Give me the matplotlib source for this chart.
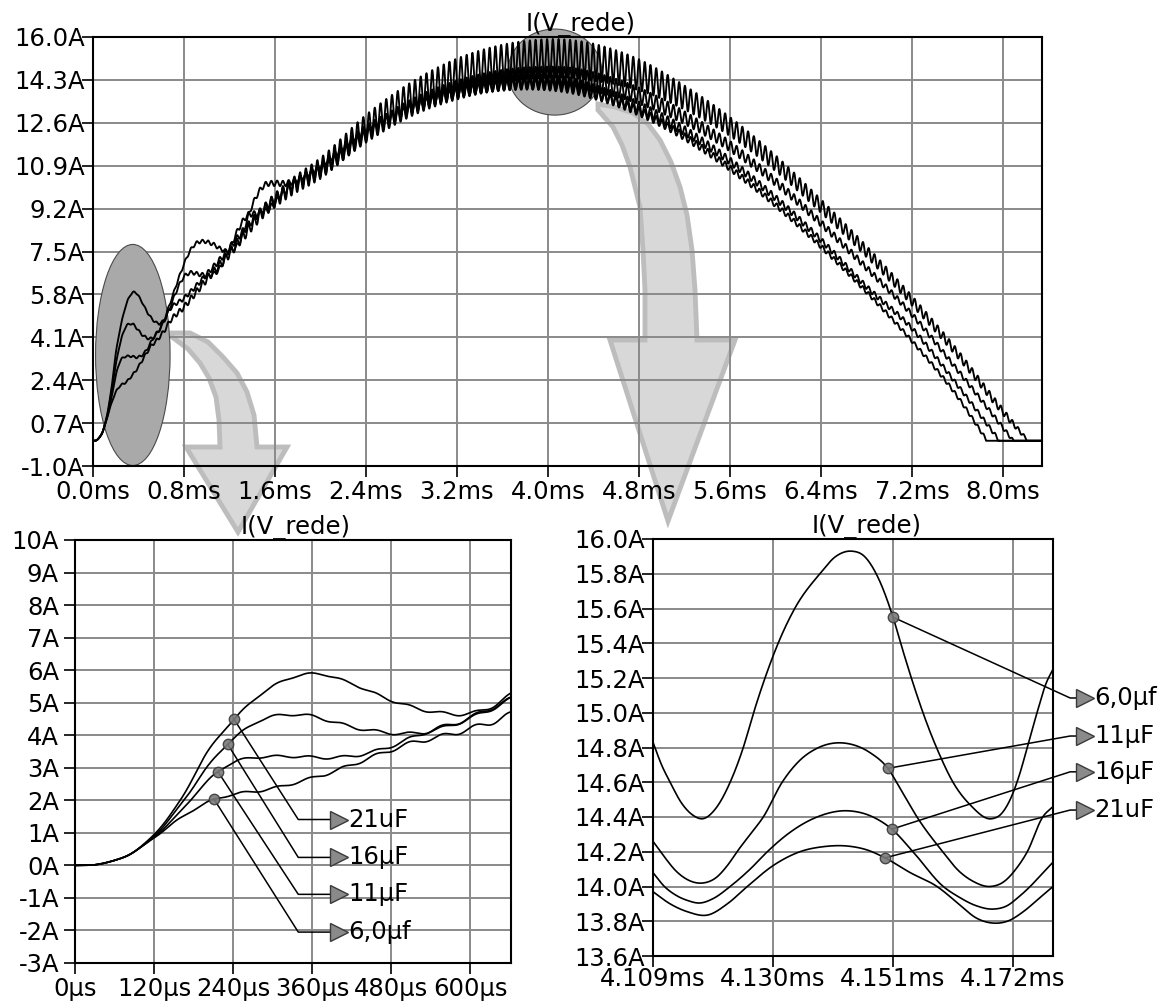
import numpy as np
import matplotlib
matplotlib.use("Agg")
import matplotlib.pyplot as plt
from matplotlib.patches import Ellipse, Polygon
from matplotlib.transforms import Affine2D

# ---------------------------------------------------------------------------
# Data: line current I(V_rede) for four filter capacitors
# ---------------------------------------------------------------------------
CAP_LABELS = ["6,0µf", "11µF", "16µF", "21uF"]

# Slow (mains-frequency) component, time in ms, current in A
T_6 = [0, 0.03, 0.06, 0.09, 0.12, 0.16, 0.211, 0.24, 0.292, 0.342, 0.392, 0.433,
       0.474, 0.513, 0.554, 0.595, 0.635, 0.661, 0.8, 0.9, 1.0, 1.14, 1.3, 1.5,
       1.73, 2.0, 2.4, 2.8, 3.2, 3.6, 4.0, 4.15, 4.4, 4.8, 5.2, 5.6, 6.0, 6.4,
       6.8, 7.2, 7.6, 8.0, 8.22]
I_6 = [0, 0.02, 0.15, 0.42, 0.85, 1.45, 2.02, 2.18, 2.33, 2.58, 2.88, 3.19,
       3.5, 3.77, 3.95, 4.17, 4.42, 4.63, 5.3, 5.85, 6.4, 7.1, 8.0, 9.1,
       10.0, 10.8, 12.4, 13.6, 14.45, 14.95, 15.15, 15.15, 15.0, 14.5, 13.6, 12.45, 11.0, 9.3,
       7.5, 5.55, 3.45, 1.15, 0.0]

T_11 = [0, 0.03, 0.06, 0.09, 0.12, 0.16, 0.19, 0.217, 0.24, 0.292, 0.342, 0.392,
        0.433, 0.474, 0.504, 0.544, 0.585, 0.626, 0.661, 0.8, 0.9, 1.0, 1.14, 1.3,
        1.5, 1.73, 2.0, 2.4, 2.8, 3.2, 3.6, 4.0, 4.15, 4.4, 4.8, 5.2, 5.6, 6.0,
        6.4, 6.8, 7.2, 7.6, 8.09]
I_11 = [0, 0.02, 0.15, 0.42, 0.87, 1.65, 2.35, 2.88, 3.16, 3.34, 3.34, 3.31,
        3.4, 3.62, 3.86, 4.17, 4.42, 4.78, 5.1, 5.65, 6.1, 6.6, 7.3, 8.2,
        9.2, 10.05, 10.7, 12.1, 13.2, 13.9, 14.3, 14.42, 14.41, 14.22, 13.67, 12.8, 11.67, 10.26,
        8.62, 6.85, 5.0, 2.8, 0.0]

T_16 = [0, 0.03, 0.06, 0.09, 0.12, 0.16, 0.2, 0.232, 0.26, 0.292, 0.325, 0.357,
        0.392, 0.433, 0.474, 0.513, 0.554, 0.595, 0.646, 0.7, 0.75, 0.8, 0.85, 0.93,
        1.03, 1.1, 1.2, 1.28, 1.35, 1.45, 1.55, 1.65, 1.8, 2.0, 2.4, 2.8, 3.2, 3.6,
        4.0, 4.15, 4.4, 4.8, 5.2, 5.6, 6.0, 6.4, 6.8, 7.2, 7.6, 7.97]
I_16 = [0, 0.02, 0.15, 0.42, 0.9, 1.85, 3.0, 3.74, 4.2, 4.54, 4.63, 4.6,
        4.41, 4.2, 4.08, 4.05, 4.2, 4.48, 4.94, 5.55, 6.1, 6.5, 6.65, 6.6,
        6.57, 6.75, 7.6, 8.4, 8.9, 9.0, 9.2, 9.7, 10.3, 10.8, 12.25, 13.2, 13.83, 14.16,
        14.2, 14.15, 13.85, 13.2, 12.28, 11.08, 9.62, 7.95, 6.1, 4.45, 2.2, 0.0]

T_21 = [0, 0.03, 0.06, 0.09, 0.12, 0.16, 0.2, 0.241, 0.292, 0.33, 0.368, 0.418,
        0.478, 0.544, 0.595, 0.63, 0.661, 0.7, 0.75, 0.8, 0.85, 0.9, 0.97, 1.05,
        1.14, 1.2, 1.3, 1.38, 1.45, 1.5, 1.6, 1.7, 1.8, 1.9, 2.0, 2.4, 2.8, 3.2,
        3.6, 4.0, 4.15, 4.4, 4.8, 5.2, 5.6, 6.0, 6.4, 6.8, 7.2, 7.6, 7.86]
I_21 = [0, 0.02, 0.15, 0.42, 0.95, 2.0, 3.45, 4.48, 5.4, 5.78, 5.89, 5.6,
        5.09, 4.72, 4.66, 4.85, 5.24, 5.75, 6.4, 7.0, 7.5, 7.8, 7.9, 7.8,
        7.56, 7.5, 8.0, 9.1, 9.8, 10.1, 10.2, 10.2, 10.35, 10.6, 10.9, 12.35, 13.2, 13.8,
        14.08, 14.1, 14.02, 13.75, 13.05, 12.05, 10.8, 9.35, 7.7, 5.9, 3.95, 1.75, 0.0]

# Instant where each current returns to zero (ms)
T_END = [8.22, 8.09, 7.97, 7.86]

# Switching ripple: amplitude envelope (A), period and peak instant (ms)
RIP_T = [0.0, 0.5, 1.0, 1.5, 2.0, 2.4, 2.8, 3.2, 3.6, 4.0, 4.4, 4.8, 5.2, 5.6,
         6.0, 6.4, 6.8, 7.2, 7.6, 8.0, 8.33]
RIP_6 = [0.00, 0.06, 0.14, 0.25, 0.42, 0.52, 0.62, 0.70, 0.75, 0.77, 0.74, 0.62,
         0.48, 0.38, 0.32, 0.27, 0.23, 0.20, 0.17, 0.14, 0.0]
RIP_11 = [0.00, 0.05, 0.10, 0.16, 0.24, 0.29, 0.34, 0.38, 0.40, 0.41, 0.39, 0.33,
          0.26, 0.21, 0.17, 0.14, 0.12, 0.10, 0.09, 0.08, 0.0]
RIP_16 = [0.00, 0.05, 0.08, 0.12, 0.17, 0.21, 0.24, 0.27, 0.28, 0.29, 0.28, 0.24,
          0.19, 0.15, 0.13, 0.11, 0.10, 0.09, 0.08, 0.07, 0.0]
RIP_21 = [0.00, 0.04, 0.07, 0.10, 0.13, 0.16, 0.18, 0.20, 0.21, 0.22, 0.21, 0.18,
          0.15, 0.12, 0.10, 0.09, 0.08, 0.07, 0.07, 0.06, 0.0]
RIPPLE_PERIOD_MS = 0.0505
RIPPLE_PEAK_MS = 4.1435

# Detail around the crest (4.109 .. 4.179 ms)
Z_T_6 = [4.109, 4.1105, 4.112, 4.114, 4.116, 4.1177, 4.1200, 4.1225, 4.1248, 4.1266,
         4.1286, 4.1309, 4.1338, 4.1382, 4.1410, 4.1438, 4.146, 4.1485, 4.151, 4.1528,
         4.1547, 4.1568, 4.159, 4.1615, 4.1645, 4.1683, 4.1700, 4.1715, 4.1730, 4.1745,
         4.1762, 4.1778, 4.179]
Z_I_6 = [14.83, 14.7, 14.6, 14.48, 14.41, 14.39, 14.45, 14.6, 14.8, 15.0,
         15.2, 15.4, 15.6, 15.8, 15.9, 15.93, 15.9, 15.77, 15.55, 15.35,
         15.15, 14.95, 14.77, 14.6, 14.47, 14.39, 14.42, 14.5, 14.63, 14.8,
         15.0, 15.17, 15.25]
Z_T_11 = [4.109, 4.111, 4.113, 4.115, 4.1177, 4.120, 4.122, 4.1237, 4.126, 4.1283,
          4.1316, 4.1345, 4.138, 4.1435, 4.147, 4.1501, 4.1525, 4.1552, 4.1597, 4.1625,
          4.165, 4.168, 4.1705, 4.1725, 4.1745, 4.1772, 4.179]
Z_I_11 = [14.26, 14.17, 14.09, 14.04, 14.02, 14.05, 14.12, 14.2, 14.3, 14.4,
          14.6, 14.72, 14.8, 14.82, 14.77, 14.68, 14.55, 14.4, 14.2, 14.09,
          14.03, 14.0, 14.03, 14.1, 14.2, 14.4, 14.46]
Z_T_16 = [4.109, 4.111, 4.113, 4.115, 4.1172, 4.1195, 4.1225, 4.126, 4.129, 4.1325,
          4.137, 4.1435, 4.1475, 4.1508, 4.1545, 4.1598, 4.1625, 4.1655, 4.1685, 4.171,
          4.173, 4.175, 4.177, 4.179]
Z_I_16 = [14.08, 14.0, 13.95, 13.92, 13.905, 13.93, 14.0, 14.1, 14.2, 14.3,
          14.39, 14.435, 14.4, 14.33, 14.2, 14.0, 13.94, 13.89, 13.87, 13.89,
          13.94, 14.0, 14.07, 14.14]
Z_T_21 = [4.109, 4.112, 4.115, 4.1186, 4.122, 4.1255, 4.130, 4.1347, 4.139, 4.143,
          4.1465, 4.1496, 4.154, 4.1587, 4.1625, 4.1655, 4.1683, 4.171, 4.174, 4.1765,
          4.179]
Z_I_21 = [13.97, 13.9, 13.855, 13.836, 13.9, 14.0, 14.12, 14.2, 14.23, 14.233,
          14.21, 14.165, 14.08, 14.0, 13.9, 13.82, 13.79, 13.8, 13.86, 13.93,
          14.0]

# Probe instants of the labelled markers
PROBE_START_US = [211, 217, 232, 241.5]
PROBE_CREST_MS = [4.151, 4.1501, 4.1508, 4.1496]

# Axis ticks and their labels
TOP_XTICKS = [0.0, 0.8, 1.6, 2.4, 3.2, 4.0, 4.8, 5.6, 6.4, 7.2, 8.0]
TOP_XLABELS = ["0.0ms", "0.8ms", "1.6ms", "2.4ms", "3.2ms", "4.0ms", "4.8ms",
               "5.6ms", "6.4ms", "7.2ms", "8.0ms"]
TOP_YTICKS = [-1.0, 0.7, 2.4, 4.1, 5.8, 7.5, 9.2, 10.9, 12.6, 14.3, 16.0]
TOP_YLABELS = ["-1.0A", "0.7A", "2.4A", "4.1A", "5.8A", "7.5A", "9.2A", "10.9A",
               "12.6A", "14.3A", "16.0A"]
BL_XTICKS = [0, 120, 240, 360, 480, 600]
BL_XLABELS = ["0µs", "120µs", "240µs", "360µs", "480µs", "600µs"]
BL_YTICKS = list(range(-3, 11))
BL_YLABELS = ["-3A", "-2A", "-1A", "0A", "1A", "2A", "3A", "4A", "5A", "6A",
              "7A", "8A", "9A", "10A"]
BR_XTICKS = [4.109, 4.130, 4.151, 4.172]
BR_XLABELS = ["4.109ms", "4.130ms", "4.151ms", "4.172ms"]
BR_YTICKS = [13.6, 13.8, 14.0, 14.2, 14.4, 14.6, 14.8, 15.0, 15.2, 15.4, 15.6,
             15.8, 16.0]
BR_YLABELS = ["13.6A", "13.8A", "14.0A", "14.2A", "14.4A", "14.6A", "14.8A",
              "15.0A", "15.2A", "15.4A", "15.6A", "15.8A", "16.0A"]

# ---------------------------------------------------------------------------
# Helpers
# ---------------------------------------------------------------------------
def smooth_curve(xk, yk, x):
    """Cubic Hermite curve through the given points."""
    xk = np.asarray(xk, float)
    yk = np.asarray(yk, float)
    m = np.gradient(yk, xk)
    i = np.clip(np.searchsorted(xk, x, side="right") - 1, 0, len(xk) - 2)
    h = xk[i + 1] - xk[i]
    s = np.clip((x - xk[i]) / h, 0.0, 1.0)
    h00 = 2 * s**3 - 3 * s**2 + 1
    h10 = s**3 - 2 * s**2 + s
    h01 = -2 * s**3 + 3 * s**2
    h11 = s**3 - s**2
    return h00 * yk[i] + h10 * h * m[i] + h01 * yk[i + 1] + h11 * h * m[i + 1]


def line_current(tk, ik, rip, t_end, t):
    base = smooth_curve(tk, ik, np.minimum(t, t_end))
    ripple = np.interp(t, RIP_T, rip) * np.cos(
        2 * np.pi * (t - RIPPLE_PEAK_MS) / RIPPLE_PERIOD_MS)
    y = np.where(t >= t_end, 0.0, base + ripple)
    return np.maximum(y, 0.0)


SERIES = [(T_6, I_6, RIP_6), (T_11, I_11, RIP_11), (T_16, I_16, RIP_16),
          (T_21, I_21, RIP_21)]
CREST = [(Z_T_6, Z_I_6), (Z_T_11, Z_I_11), (Z_T_16, Z_I_16), (Z_T_21, Z_I_21)]

# ---------------------------------------------------------------------------
# Figure
# ---------------------------------------------------------------------------
plt.rcParams["font.family"] = ["DejaVu Sans"]
FS = 17.5
W, H, DPI = 1171, 1001, 100
fig = plt.figure(figsize=(W / DPI, H / DPI), dpi=DPI)
pix = Affine2D().scale(1 / W, -1 / H).translate(0, 1) + fig.transFigure

ax_top = fig.add_axes([93 / W, 1 - 466 / H, (1042 - 93) / W, (466 - 37) / H])
ax_bl = fig.add_axes([75 / W, 1 - 963 / H, (511 - 75) / W, (963 - 540) / H])
ax_br = fig.add_axes([653 / W, 1 - 956 / H, (1053 - 653) / W, (956 - 539) / H])


def style(ax, xt, xl, yt, yl, ypad, xpad, title_x):
    ax.set_facecolor("none")
    ax.set_xticks(xt)
    ax.set_xticklabels(xl)
    ax.set_yticks(yt)
    ax.set_yticklabels(yl)
    ax.grid(True, color="#8a8a8a", lw=1.4)
    ax.set_axisbelow(True)
    for sp in ax.spines.values():
        sp.set_linewidth(1.5)
        sp.set_color("black")
    ax.tick_params(direction="out", length=8, width=1.2, labelsize=FS,
                   colors="black")
    ax.tick_params(axis="y", pad=ypad)
    ax.tick_params(axis="x", pad=xpad)
    ax.set_title("I(V_rede)", fontsize=FS, pad=1, x=title_x)


# Big curved pointer arrows between panels (drawn beneath the axes content)
arrow_small = [(172, 333), (190, 333), (208, 342), (223, 357), (237, 373),
               (247, 392), (254, 415), (257, 447), (287, 447), (238, 532),
               (186, 447), (220, 447), (219, 420), (216, 397), (209, 378),
               (200, 363), (188, 349), (172, 337)]
arrow_big = [(598, 104), (615, 107), (633, 113), (648, 124), (660, 140),
             (671, 162), (680, 187), (687, 215), (692, 250), (695, 290),
             (697, 340), (735, 340), (668, 521), (610, 340), (645, 340),
             (645, 290), (643, 250), (640, 207), (630, 167), (622, 145),
             (613, 127), (598, 110)]
for pts in (arrow_small, arrow_big):
    fig.add_artist(Polygon(pts, closed=True, facecolor="#d8d8d8",
                           edgecolor="#bdbdbd", lw=3.5, transform=pix,
                           zorder=-1))

# --- overview ---
style(ax_top, TOP_XTICKS, TOP_XLABELS, TOP_YTICKS, TOP_YLABELS, -2, 2, 0.514)
t = np.linspace(0, 8.343, 24000)
for (tk, ik, rip), t_end in zip(SERIES, T_END):
    ax_top.plot(t, line_current(tk, ik, rip, t_end, t), color="black", lw=1.35,
                zorder=2)
ax_top.add_patch(Ellipse((0.35, 3.4), 0.655, 8.76, facecolor="#a9a9a9",
                         edgecolor="#4a4a4a", lw=0.8, zorder=1, clip_on=False))
ax_top.add_patch(Ellipse((4.06, 14.61), 0.826, 3.41, facecolor="#a9a9a9",
                         edgecolor="#4a4a4a", lw=0.8, zorder=1, clip_on=False))
ax_top.set_xlim(0, 8.343)
ax_top.set_ylim(-1.0, 16.0)

# --- start-up detail ---
style(ax_bl, BL_XTICKS, BL_XLABELS, BL_YTICKS, BL_YLABELS, 3.5, 2, 0.507)
t_bl = np.linspace(0, 0.662, 3000)
BL_LABEL_Y = [-2.05, -0.89, 0.245, 1.41]
for k, ((tk, ik, rip), t_end) in enumerate(zip(SERIES, T_END)):
    ax_bl.plot(t_bl * 1000, line_current(tk, ik, rip, t_end, t_bl),
               color="black", lw=1.2, zorder=2)
    tp = np.array([PROBE_START_US[k] / 1000.0])
    ip = line_current(tk, ik, rip, t_end, tp)[0]
    ly = BL_LABEL_Y[k]
    ax_bl.plot([PROBE_START_US[k], 339, 387], [ip, ly, ly], color="black",
               lw=1.1, zorder=3, clip_on=False)
    ax_bl.plot(PROBE_START_US[k], ip, "o", ms=7.5, mfc="#7a7a7a", mec="#3a3a3a",
               mew=1.0, alpha=0.9, zorder=4)
    ax_bl.plot(401, ly, marker=">", ms=13, mfc="#8a8a8a", mec="#3a3a3a",
               mew=1.0, zorder=4, clip_on=False)
    ax_bl.text(415, ly, CAP_LABELS[k], fontsize=FS, va="center", ha="left",
               zorder=5, clip_on=False)
ax_bl.set_xlim(0, 662)
ax_bl.set_ylim(-3, 10)

# --- crest detail ---
style(ax_br, BR_XTICKS, BR_XLABELS, BR_YTICKS, BR_YLABELS, -2, 0, 0.535)
t_br = np.linspace(4.109, 4.179, 1200)
BR_LABEL_Y = [15.085, 14.866, 14.66, 14.44]
for k, (zt, zi) in enumerate(CREST):
    ax_br.plot(t_br, smooth_curve(zt, zi, t_br), color="black", lw=1.2, zorder=2)
    ip = smooth_curve(zt, zi, np.array([PROBE_CREST_MS[k]]))[0]
    ly = BR_LABEL_Y[k]
    ax_br.plot([PROBE_CREST_MS[k], 4.1820, 4.1832], [ip, ly, ly], color="black",
               lw=1.1, zorder=3, clip_on=False)
    ax_br.plot(PROBE_CREST_MS[k], ip, "o", ms=7.5, mfc="#7a7a7a", mec="#3a3a3a",
               mew=1.0, alpha=0.9, zorder=4)
    ax_br.plot(4.1846, ly, marker=">", ms=13, mfc="#8a8a8a", mec="#3a3a3a",
               mew=1.0, zorder=4, clip_on=False)
    ax_br.text(4.1862, ly, CAP_LABELS[k], fontsize=FS, va="center", ha="left",
               zorder=5, clip_on=False)
ax_br.set_xlim(4.109, 4.179)
ax_br.set_ylim(13.6, 16.0)

fig.savefig("out.png", dpi=DPI)
